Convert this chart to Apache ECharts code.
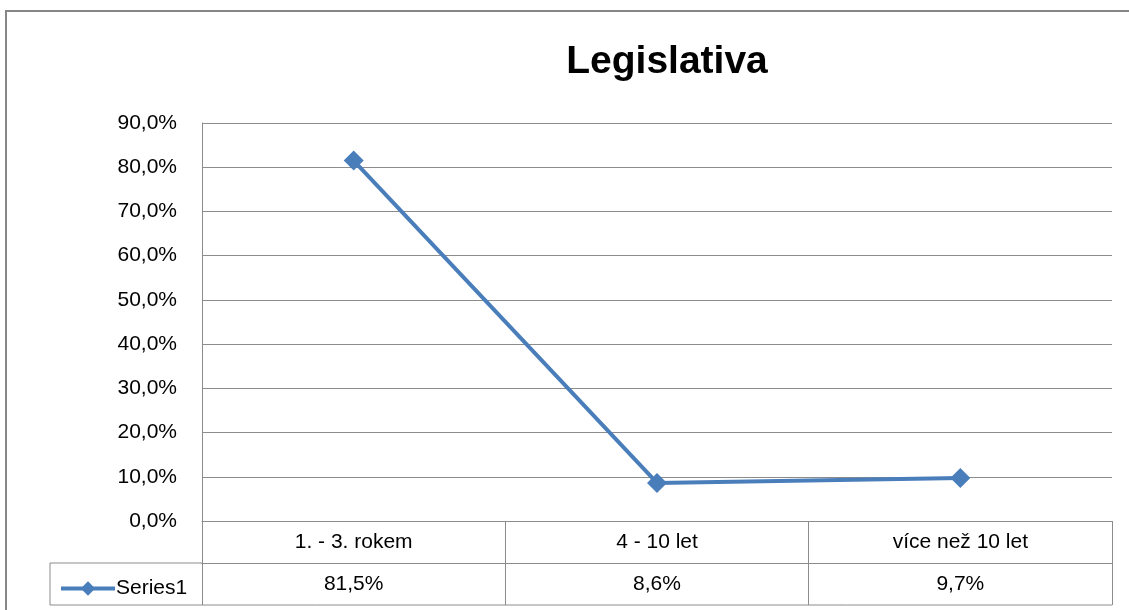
<!DOCTYPE html>
<html>
<head>
<meta charset="utf-8">
<script src="https://cdn.jsdelivr.net/npm/echarts@6/dist/echarts.min.js"></script>
<style>
  html, body { margin: 0; padding: 0; background: #fff; }
  #chart { width: 1129px; height: 610px; }
</style>
</head>
<body>
<div id="chart"></div>
<script>
const categories = ['1. - 3. rokem', '4 - 10 let', 'více než 10 let']
const values = [81.5, 8.6, 9.7]
const seriesName = 'Series1'
const yTicks = [0, 10, 20, 30, 40, 50, 60, 70, 80, 90]

const fmt = v => v.toFixed(1).replace('.', ',') + '%'
const font = '"Liberation Sans", "Open Sans", sans-serif'
const grey = '#8c8c8c'
const blue = '#4a7ebb'

const chart = echarts.init(document.getElementById('chart'))
chart.setOption({
  animation: false,
  title: {
    text: 'Legislativa',
    left: 662,
    textAlign: 'center',
    top: 38,
    textStyle: { fontFamily: font, fontSize: 39, fontWeight: 'bold', color: '#000' },
  },
  legend: {
    left: 54,
    top: 573,
    itemWidth: 54,
    itemHeight: 18,
    itemGap: 2,
    lineStyle: { width: 4 },
    textStyle: { fontFamily: font, fontSize: 21, color: '#000', padding: [0, 0, 0, -4] },
    data: [seriesName],
  },
  grid: { left: 202, right: 17, top: 123, bottom: 89 },
  xAxis: [
    {
      type: 'category',
      data: categories,
      boundaryGap: true,
      axisLine: { lineStyle: { color: grey, width: 1 } },
      axisTick: { show: true, length: 42, lineStyle: { color: grey } },
      axisLabel: {
        margin: 21,
        verticalAlign: 'middle',
        fontFamily: font,
        fontSize: 21,
        color: '#000',
      },
    },
    {
      type: 'category',
      data: categories,
      position: 'bottom',
      offset: 42,
      boundaryGap: true,
      axisLine: { show: true, lineStyle: { color: grey, width: 1 } },
      axisTick: { show: true, length: 42, lineStyle: { color: grey } },
      axisLabel: {
        margin: 21,
        verticalAlign: 'middle',
        fontFamily: font,
        fontSize: 21,
        color: '#000',
        formatter: (v, i) => fmt(values[i]),
      },
    },
  ],
  yAxis: {
    type: 'value',
    min: yTicks[0],
    max: yTicks[yTicks.length - 1],
    interval: 10,
    axisLine: { show: true, lineStyle: { color: grey } },
    axisTick: { show: false },
    splitLine: { lineStyle: { color: grey, width: 1 } },
    axisLabel: {
      margin: 25,
      fontFamily: font,
      fontSize: 21,
      color: '#000',
      formatter: v => fmt(v),
    },
  },
  graphic: [
    {
      type: 'polyline',
      shape: { points: [[1140, 11], [6, 11], [6, 620]] },
      style: { stroke: '#868686', lineWidth: 2, fill: null },
      silent: true,
    },
    {
      type: 'polyline',
      shape: { points: [[202, 563], [50, 563], [50, 605], [1112, 605]] },
      style: { stroke: grey, lineWidth: 1, fill: null },
      silent: true,
    },
  ],
  series: [
    {
      name: seriesName,
      type: 'line',
      data: values,
      xAxisIndex: 0,
      yAxisIndex: 0,
      symbol: 'diamond',
      symbolSize: 20,
      lineStyle: { color: blue, width: 4 },
      itemStyle: { color: blue },
    },
  ],
})
</script>
</body>
</html>
